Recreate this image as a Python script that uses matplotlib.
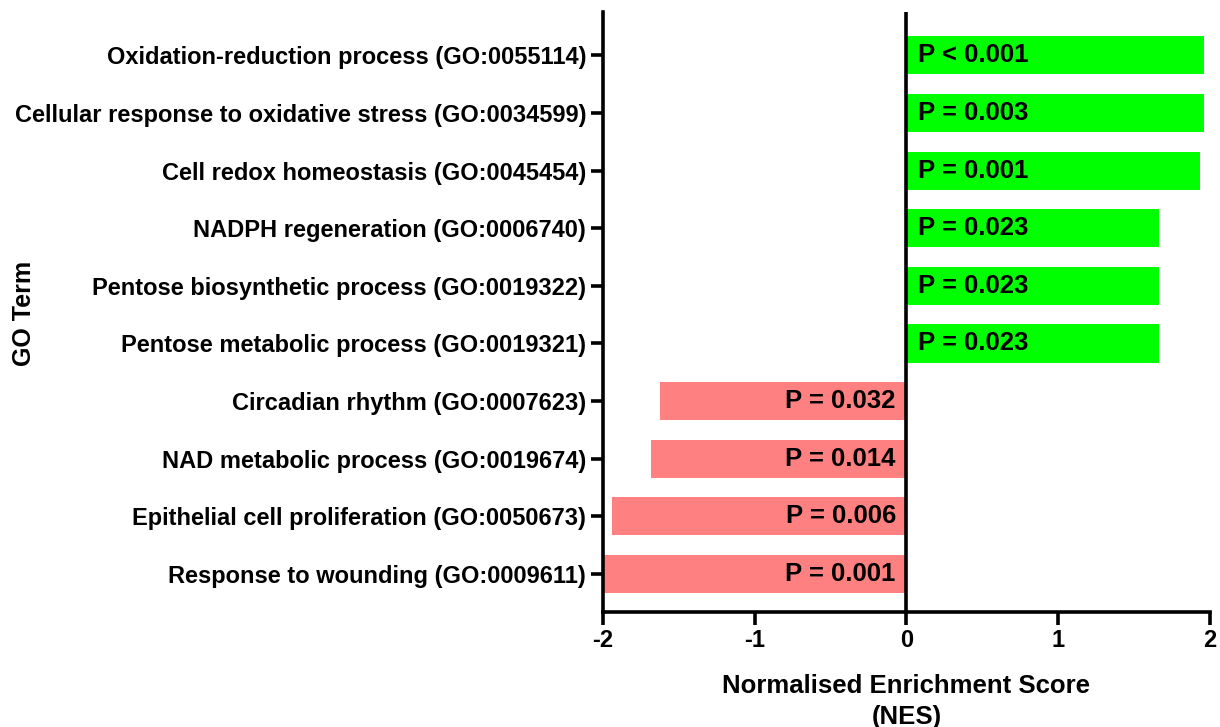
import numpy as np
import matplotlib.pyplot as plt

plt.rcParams['font.family'] = ['Liberation Sans', 'DejaVu Sans']
plt.rcParams['font.weight'] = 'bold'

# GO terms, top to bottom
terms = [
    'Oxidation-reduction process (GO:0055114)',
    'Cellular response to oxidative stress (GO:0034599)',
    'Cell redox homeostasis (GO:0045454)',
    'NADPH regeneration (GO:0006740)',
    'Pentose biosynthetic process (GO:0019322)',
    'Pentose metabolic process (GO:0019321)',
    'Circadian rhythm (GO:0007623)',
    'NAD metabolic process (GO:0019674)',
    'Epithelial cell proliferation (GO:0050673)',
    'Response to wounding (GO:0009611)',
]
nes = [1.96, 1.96, 1.93, 1.66, 1.66, 1.66, -1.62, -1.68, -1.94, -1.99]
pvals = ['P < 0.001', 'P = 0.003', 'P = 0.001', 'P = 0.023', 'P = 0.023',
         'P = 0.023', 'P = 0.032', 'P = 0.014', 'P = 0.006', 'P = 0.001']

fig = plt.figure(figsize=(12.2, 7.27), dpi=100)
ax = fig.add_axes([0.494, 0.158, 0.498, 0.8255])

y = np.arange(len(terms))
colors = ['#00ff00' if v > 0 else '#ff8080' for v in nes]
ax.barh(y, nes, height=0.66, color=colors, edgecolor='none', zorder=2)

for yi, v, p in zip(y, nes, pvals):
    if v > 0:
        ax.text(0.075, yi, p, ha='left', va='center', fontsize=18.5,
                fontweight='bold', zorder=3)
    else:
        ax.text(-0.07, yi, p, ha='right', va='center', fontsize=18.5,
                fontweight='bold', zorder=3)

ax.axvline(0, color='black', lw=2.6, zorder=4)

ax.set_xlim(-2, 2)
ax.set_ylim(9.66, -0.75)
ax.set_yticks(y)
ax.set_yticklabels(terms, fontsize=17, fontweight='bold')
ax.set_xticks([-2, -1, 0, 1, 2])
ax.set_xticklabels(['-2', '-1', '0', '1', '2'], fontsize=17, fontweight='bold')

for s in ['top', 'right']:
    ax.spines[s].set_visible(False)
for s in ['left', 'bottom']:
    ax.spines[s].set_linewidth(2.6)
ax.tick_params(axis='both', width=2.6, length=9, pad=3)

ax.set_xlabel('Normalised Enrichment Score\n(NES)', fontsize=18.5,
              fontweight='bold', labelpad=16, linespacing=1.35)
fig.text(0.02, 0.569, 'GO Term', rotation=90, ha='center', va='center',
         fontsize=18, fontweight='bold')

fig.savefig('out.png', dpi=100)
